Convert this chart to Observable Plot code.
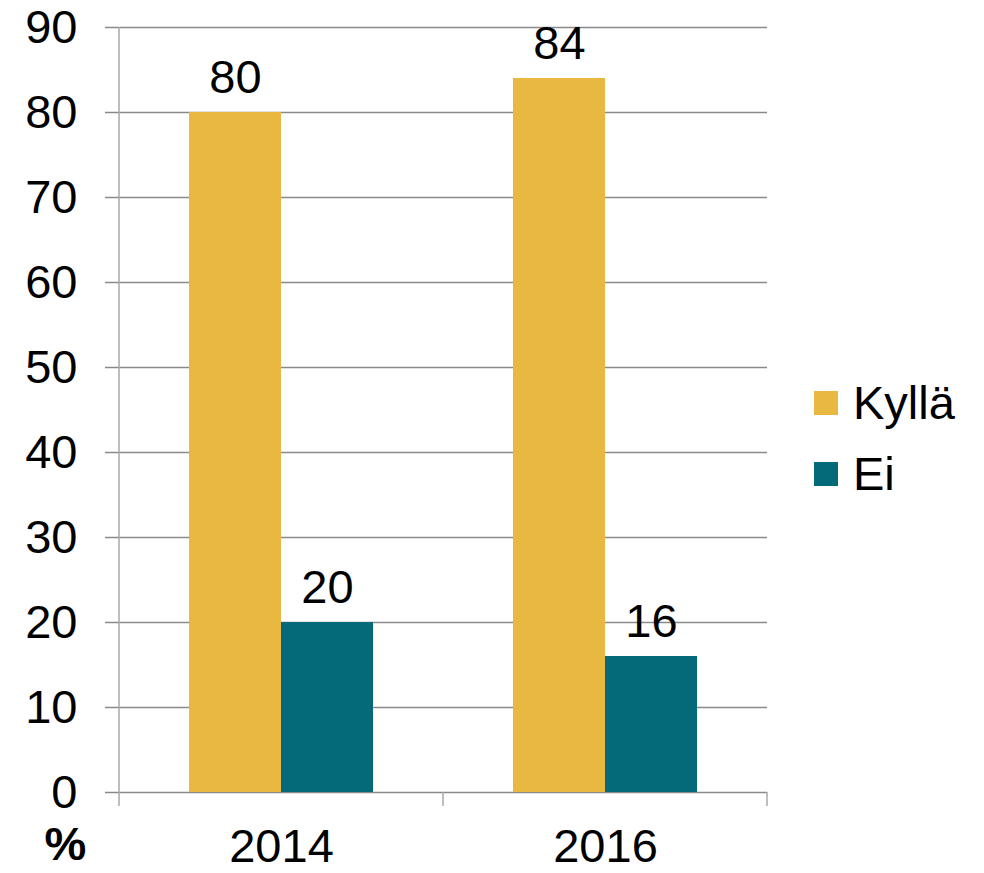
<!DOCTYPE html>
<html>
<head>
<meta charset="utf-8">
<script src="https://cdn.jsdelivr.net/npm/d3@7"></script>
<script src="https://cdn.jsdelivr.net/npm/@observablehq/plot@0.6"></script>
<style>
  html, body { margin: 0; padding: 0; background: #fff; }
  #wrap { position: relative; width: 984px; height: 873px; font-family: "Liberation Sans", Arial, sans-serif; }
  .item { position: absolute; left: 814px; display: flex; align-items: center; height: 47px; line-height: 47px; font-size: 47px; color: #000; white-space: nowrap; }
  .sw { width: 24px; height: 24px; margin-right: 15px; flex: none; }
</style>
</head>
<body>
<div id="wrap"></div>
<script>
const years = ["2014", "2016"];
const series = ["Kyllä", "Ei"];
const kylla = [80, 84];
const ei = [20, 16];
const colors = ["#E9B840", "#046A7A"];
const yTicks = [0, 10, 20, 30, 40, 50, 60, 70, 80, 90];
const yLabel = "%";

const data = [];
years.forEach((yr, i) => {
  data.push({year: yr, series: series[0], value: kylla[i]});
  data.push({year: yr, series: series[1], value: ei[i]});
});

const gridColor = "#8a8a8a";
const axisColor = "#a9a9a9";
const fs = 47;

const plot = Plot.plot({
  width: 984,
  height: 873,
  marginLeft: 118,
  marginRight: 217,
  marginTop: 27,
  marginBottom: 81,
  style: {fontFamily: "'Liberation Sans', Arial, sans-serif", background: "#fff", color: "#000"},
  fx: {domain: years, paddingInner: 0, paddingOuter: 0, label: null},
  x: {domain: series, paddingInner: 0, paddingOuter: 0.754, axis: null},
  y: {domain: [0, 90], label: null},
  color: {domain: series, range: colors},
  marks: [
    Plot.gridY(yTicks, {stroke: gridColor, strokeOpacity: 1, strokeWidth: 1.5}),
    Plot.axisY(yTicks, {tickSize: 14, text: null, stroke: gridColor, strokeWidth: 1.5, label: null}),
    Plot.axisY(yTicks, {tickSize: 0, tickPadding: 42, fontSize: fs, fill: "#000", label: null}),
    Plot.axisFx({anchor: "bottom", tickSize: 0, tickPadding: 36, fontSize: fs, fill: "#000", label: null}),
    Plot.barY(data, {fx: "year", x: "series", y: "value", fill: "series"}),
    Plot.text(data, {fx: "year", x: "series", y: "value", text: d => String(d.value), fontSize: fs, lineAnchor: "bottom", dy: -20, fill: "#000"}),
    Plot.text([yLabel], {frameAnchor: "bottom-left", facetAnchor: "left", textAnchor: "middle", lineAnchor: "middle", dx: -54, dy: 52, fontSize: fs, fontWeight: "bold", fill: "#000"})
  ]
});

document.getElementById("wrap").appendChild(plot);

// Vertical axis line and category separator ticks, placed via Plot's own scales
const fx = plot.scale("fx");
const y = plot.scale("y");
const svg = d3.select(plot);
const y0 = y.apply(0);
const yTop = y.apply(90);
const xLeft = fx.apply(years[0]);
const bounds = years.map(yr => fx.apply(yr)).concat([fx.apply(years[years.length - 1]) + fx.bandwidth]);
svg.append("line")
  .attr("x1", xLeft).attr("x2", xLeft)
  .attr("y1", yTop).attr("y2", y0 + 14)
  .attr("stroke", axisColor).attr("stroke-width", 1.5);
svg.selectAll("line.sep").data(bounds.slice(1)).join("line")
  .attr("class", "sep")
  .attr("x1", d => d).attr("x2", d => d)
  .attr("y1", y0).attr("y2", y0 + 14)
  .attr("stroke", axisColor).attr("stroke-width", 1.5);

// Legend
const legendTops = [379, 450];
series.forEach((s, i) => {
  const item = document.createElement("div");
  item.className = "item";
  item.style.top = legendTops[i] + "px";
  const sw = document.createElement("div");
  sw.className = "sw";
  sw.style.background = colors[i];
  const label = document.createElement("span");
  label.textContent = s;
  item.appendChild(sw);
  item.appendChild(label);
  document.getElementById("wrap").appendChild(item);
});
</script>
</body>
</html>
